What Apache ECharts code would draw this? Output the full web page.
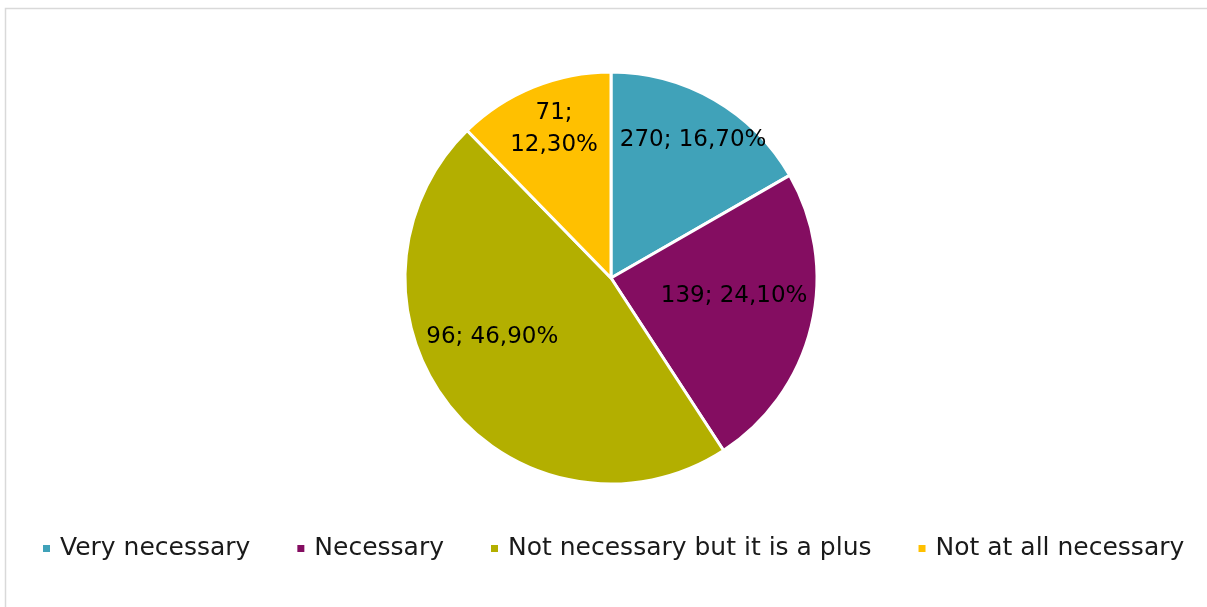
<!DOCTYPE html>
<html>
<head>
<meta charset="utf-8">
<script src="https://cdn.jsdelivr.net/npm/echarts@6/dist/echarts.min.js"></script>
<style>
  html, body { margin: 0; padding: 0; background: #fff; }
  #chart { width: 1207px; height: 607px; }
</style>
</head>
<body>
<div id="chart"></div>
<script>
// Chart data
const categories = ['Very necessary', 'Necessary', 'Not necessary but it is a plus', 'Not at all necessary'];
const counts = [270, 139, 96, 71];
const percents = [16.7, 24.1, 46.9, 12.3];
const colors = ['#40A2B9', '#840D61', '#B3AF00', '#FFC000'];

const chart = echarts.init(document.getElementById('chart'));

// Excel's "best fit" label spots, nudged from the slice middle
const labelOffsets = [[29, -46], [20, -7], [-36, -7], [-17, -51]];

const option = {
    backgroundColor: '#fff',
    color: colors,
    textStyle: { fontFamily: 'DejaVu Sans' },
    graphic: [{
        type: 'rect',
        shape: { x: 5.5, y: 8.5, width: 1300, height: 700 },
        style: { fill: 'none', stroke: '#d9d9d9', lineWidth: 1.5 },
        silent: true
    }],
    legend: {
        data: categories,
        top: 531,
        left: 36,
        icon: 'rect',
        itemWidth: 9,
        itemHeight: 9,
        itemGap: 45,
        textStyle: { fontSize: 25, color: '#1a1a1a', padding: [0, 0, 0, 4] }
    },
    series: [{
        type: 'pie',
        center: [611, 278],
        radius: 206,
        startAngle: 90,
        clockwise: true,
        avoidLabelOverlap: false,
        itemStyle: { borderColor: '#fff', borderWidth: 3 },
        label: {
            show: true,
            position: 'inside',
            color: '#000',
            fontSize: 23,
            lineHeight: 32,
            formatter: p => {
                const pct = p.value.toFixed(2).replace('.', ',') + '%';
                // the narrow slice wraps its label onto two lines
                return counts[p.dataIndex] + (p.dataIndex === 3 ? ';\n' : '; ') + pct;
            }
        },
        labelLine: { show: false },
        emphasis: { disabled: true },
        data: categories.map((name, i) => ({
            name: name,
            value: percents[i],
            label: { offset: labelOffsets[i] }
        }))
    }]
};

chart.setOption(option);
</script>
</body>
</html>
